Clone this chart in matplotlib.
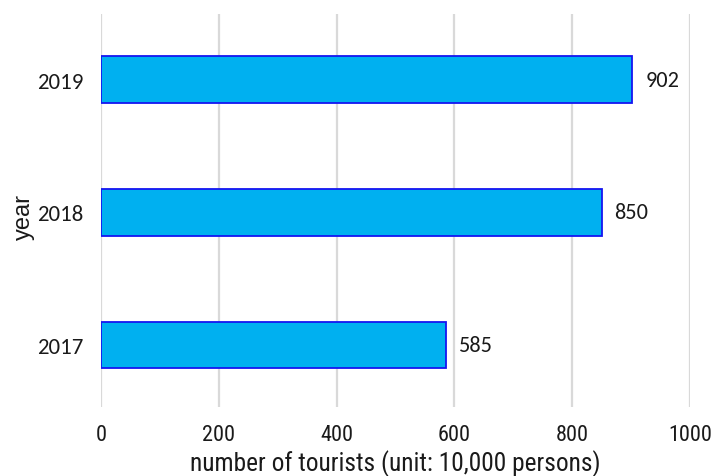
import matplotlib
matplotlib.use('Agg')
import matplotlib.pyplot as plt
import logging
logging.getLogger('matplotlib.font_manager').setLevel(logging.ERROR)

years = ['2017', '2018', '2019']
tourists = [585, 850, 902]
xticks = [0, 200, 400, 600, 800, 1000]

BAR = '#00B0F0'; EDGE = '#1515F0'; GRID = '#D9D9D9'; INK = '#1a1a1a'
NARROW = ['Roboto Condensed', 'PT Sans Narrow', 'Archivo Narrow', 'Liberation Sans', 'DejaVu Sans']
CAL = ['Carlito', 'Lato', 'DejaVu Sans']
ARIAL = ['Arimo', 'Liberation Sans', 'DejaVu Sans']

fig = plt.figure(figsize=(7.15, 4.77), dpi=100)
ax = fig.add_axes([0.1413, 0.1447, 0.8237, 0.8239])
pos = range(len(years))
ax.barh(pos, tourists, height=0.35, color=BAR, edgecolor=EDGE, linewidth=1.3, zorder=3)
for p, v in zip(pos, tourists):
    ax.text(v + 22, p, str(v), va='center', ha='left', fontsize=16, color=INK, family=CAL)

ax.set_xlim(0, 1000); ax.set_ylim(-0.465, 2.495)
ax.set_xticks(xticks)
ax.set_xticklabels([str(t) for t in xticks], family=NARROW, fontsize=16, color=INK)
ax.set_yticks(list(pos))
ax.set_yticklabels(years, family=CAL, fontsize=16.5, color=INK)
ax.tick_params(length=0, axis='x', pad=12)
ax.tick_params(length=0, axis='y', pad=13)
ax.grid(axis='x', color=GRID, lw=1.6, zorder=0)
ax.grid(axis='y', visible=False)
for s in ax.spines.values():
    s.set_visible(False)
ax.set_xlabel('number of tourists (unit: 10,000 persons)', family=NARROW, fontsize=18.3, color=INK, labelpad=3)
ax.set_ylabel('year', family=ARIAL, fontsize=17, color=INK)
ax.yaxis.set_label_coords(-0.113, 0.486)
fig.savefig('out.png', dpi=100)
